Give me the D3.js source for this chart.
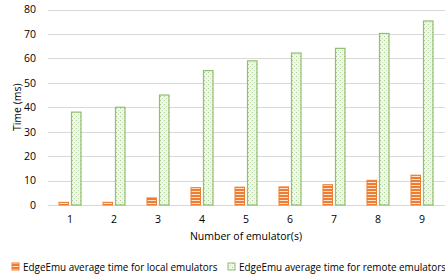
<!DOCTYPE html>
<meta charset="utf-8">
<style>
body { margin: 0; background: #fff; }
text { font-family: "Open Sans", sans-serif; fill: #000; }
.grid line { stroke: #d9d9d9; stroke-width: 1px; }
</style>
<svg width="445" height="280"></svg>
<script src="https://d3js.org/d3.v7.min.js"></script>
<script>

var emulators = ["1", "2", "3", "4", "5", "6", "7", "8", "9"];
var localTimes = [1.1, 1.1, 2.9, 7.1, 7.3, 7.4, 8.3, 10.1, 12.2];
var remoteTimes = [38, 40, 45, 55, 59, 62.2, 64.1, 70.2, 75.3];
var yTicks = [0, 10, 20, 30, 40, 50, 60, 70, 80];
var seriesNames = ["EdgeEmu average time for local emulators", "EdgeEmu average time for remote emulators"];

var svg = d3.select("svg");
var plotLeft = 48, plotRight = 444, plotTop = 9.5, plotBottom = 205;

var defs = svg.append("defs");

// orange horizontal stripes
var stripes = defs.append("pattern")
    .attr("id", "stripes")
    .attr("patternUnits", "userSpaceOnUse")
    .attr("width", 6).attr("height", 3);
stripes.append("rect").attr("width", 6).attr("height", 3).attr("fill", "#ED7D31");
stripes.append("rect").attr("y", 2).attr("width", 6).attr("height", 1).attr("fill", "#fde2cf");

// green speckled dots
var dots = defs.append("pattern")
    .attr("id", "dots")
    .attr("patternUnits", "userSpaceOnUse")
    .attr("width", 4).attr("height", 4);
dots.append("rect").attr("width", 4).attr("height", 4).attr("fill", "#f1f7ec");
dots.append("rect").attr("x", 0).attr("y", 0).attr("width", 1).attr("height", 1).attr("fill", "#a9cf8f");
dots.append("rect").attr("x", 2).attr("y", 2).attr("width", 1).attr("height", 1).attr("fill", "#c3dcb2");

var x = d3.scaleBand().domain(emulators).range([plotLeft, plotRight]);
var y = d3.scaleLinear().domain([0, 80]).range([plotBottom, plotTop]);

// gridlines
svg.append("g").attr("class", "grid")
  .selectAll("line").data(yTicks).enter().append("line")
    .attr("x1", plotLeft).attr("x2", 445)
    .attr("y1", function(d) { return Math.round(y(d)) + 0.5; })
    .attr("y2", function(d) { return Math.round(y(d)) + 0.5; });

// y axis labels
var yAxis = d3.axisLeft(y).tickValues(yTicks).tickSize(0).tickPadding(12);
svg.append("g").attr("transform", "translate(" + plotLeft + ",0)").call(yAxis)
  .call(function(g) { g.select(".domain").remove(); })
  .selectAll("text").style("font-size", "10.5px").attr("font-family", null);

// x axis labels
var xAxis = d3.axisBottom(x).tickSize(0).tickPadding(11);
svg.append("g").attr("transform", "translate(0," + plotBottom + ")").call(xAxis)
  .call(function(g) { g.select(".domain").remove(); })
  .selectAll("text").style("font-size", "10.5px").attr("font-family", null);

var barW = 9.5, gap = 3;

svg.append("g").selectAll("rect").data(localTimes).enter().append("rect")
    .attr("x", function(d, i) { return x(emulators[i]) + x.bandwidth() / 2 - gap / 2 - barW; })
    .attr("y", function(d) { return y(d); })
    .attr("width", barW)
    .attr("height", function(d) { return plotBottom - y(d); })
    .attr("fill", "url(#stripes)")
    .attr("stroke", "#ED7D31").attr("stroke-width", 1);

svg.append("g").selectAll("rect").data(remoteTimes).enter().append("rect")
    .attr("x", function(d, i) { return x(emulators[i]) + x.bandwidth() / 2 + gap / 2; })
    .attr("y", function(d) { return y(d); })
    .attr("width", barW)
    .attr("height", function(d) { return plotBottom - y(d); })
    .attr("fill", "url(#dots)")
    .attr("stroke", "#8fbf6f").attr("stroke-width", 1.2);

// axis titles
svg.append("text")
    .attr("x", (plotLeft + plotRight) / 2).attr("y", 240)
    .attr("text-anchor", "middle").style("font-size", "10.5px")
    .text("Number of emulator(s)");

svg.append("text")
    .attr("transform", "translate(21," + ((plotTop + plotBottom) / 2) + ") rotate(-90)")
    .attr("text-anchor", "middle").style("font-size", "10.5px")
    .text("Time (ms)");

// legend
var legend = svg.append("g").attr("transform", "translate(0,267)");
var legX = [12, 228];
var legFill = ["url(#stripes)", "url(#dots)"];
var legStroke = ["#ED7D31", "#8fbf6f"];
seriesNames.forEach(function(name, i) {
  legend.append("rect")
      .attr("x", legX[i]).attr("y", -4).attr("width", 7).attr("height", 7)
      .attr("fill", legFill[i]).attr("stroke", legStroke[i]);
  legend.append("text")
      .attr("x", legX[i] + 11).attr("y", 3.5)
      .style("font-size", "9.9px")
      .text(name);
});

</script>
